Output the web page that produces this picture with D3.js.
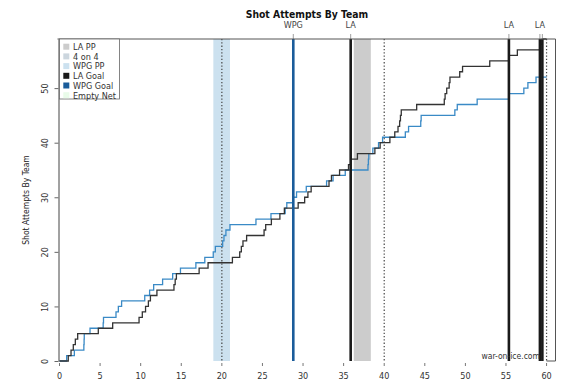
<!DOCTYPE html>
<html>
<head>
<meta charset="utf-8">
<script src="https://cdn.jsdelivr.net/npm/d3@7"></script>
<style>
  body { margin: 0; background: #fff; }
  text { font-family: "DejaVu Sans Condensed", "DejaVu Sans", sans-serif; }
</style>
</head>
<body>
<div id="chart-area"></div>
<script>
// time (minutes) of each shot attempt, cumulative count = index + 1
const laShots = [1.08, 1.42, 1.7, 1.95, 2.24, 4.78, 6.55, 9.8, 10.2, 10.6, 10.95, 11.2, 12.0,
  14.1, 14.25, 14.4, 17.2, 18.3, 21.3, 22.2, 22.4, 22.6, 23.05, 25.2, 25.4, 26.1, 27.15, 27.7,
  29.4, 30.2, 30.6, 31.0, 33.2, 33.5, 34.5, 35.6, 35.87, 36.7, 38.85, 39.5, 40.7, 41.3, 41.7,
  41.9, 42.0, 42.1, 44.0, 47.4, 47.5, 47.7, 48.0, 48.1, 49.3, 49.65, 53.0, 55.36, 56.4, 59.18, 59.48];
const wpgShots = [0.88, 1.83, 3.0, 3.03, 3.05, 3.76, 5.38, 5.42, 6.96, 7.25, 7.65, 10.5, 11.1,
  11.6, 12.7, 13.94, 14.9, 16.8, 17.9, 18.94, 19.2, 20.1, 20.26, 20.5, 21.0, 24.2, 26.05, 27.8,
  28.0, 28.8, 29.2, 30.4, 32.9, 33.7, 35.2, 38.0, 38.05, 38.1, 38.6, 39.3, 39.8, 42.6, 43.0,
  44.5, 44.55, 48.7, 49.0, 51.45, 55.36, 57.2, 57.7, 58.7];

const laGoals = [35.87, 55.36, 59.18, 59.48];
const wpgGoals = [28.8];
const laPP = [[36.25, 38.35]];
const wpgPP = [[18.95, 21.0]];
const periodEnds = [20, 40, 60];

const xTicks = [0, 5, 10, 15, 20, 25, 30, 35, 40, 45, 50, 55, 60];
const yTicks = [0, 10, 20, 30, 40, 50];
const legendLabels = ['LA PP', '4 on 4', 'WPG PP', 'LA Goal', 'WPG Goal', 'Empty Net'];

const colors = {
  laPP: '#cccccc', fourOnFour: '#ccd6de', wpgPP: '#cce1ef',
  laGoal: '#1a1a1a', wpgGoal: '#1a5c9a', empty: '#e9fbe9',
  laLine: '#333333', wpgLine: '#3a8ac6'
};

const width = 568, height = 389;
const plot = { left: 59.5, right: 555.5, top: 39, bottom: 361 };

let svg = d3.select('#chart-area').append('svg')
  .attr('width', width)
  .attr('height', height);

let x = d3.scaleLinear().domain([0, 61.1]).range([plot.left, plot.right]);
let y = d3.scaleLinear().domain([0, 59]).range([plot.bottom, plot.top]);

// penalty bands
const bands = [].concat(
  wpgPP.map((d) => ({ s: d[0], e: d[1], c: colors.wpgPP })),
  laPP.map((d) => ({ s: d[0], e: d[1], c: colors.laPP }))
);
svg.selectAll('rect.band').data(bands).enter().append('rect')
  .attr('class', 'band')
  .attr('x', (d) => x(d.s))
  .attr('width', (d) => x(d.e) - x(d.s))
  .attr('y', plot.top)
  .attr('height', plot.bottom - plot.top)
  .attr('fill', (d) => d.c);

// period ends
svg.selectAll('line.period').data(periodEnds).enter().append('line')
  .attr('class', 'period')
  .attr('x1', (d) => x(d)).attr('x2', (d) => x(d))
  .attr('y1', plot.top).attr('y2', plot.bottom)
  .attr('stroke', '#444').attr('stroke-width', 1.2)
  .attr('stroke-dasharray', '1.3,2');

// step lines
function steps(times) {
  let pts = [[0, 0]];
  times.forEach((t, i) => { pts.push([t, i + 1]); });
  pts.push([60, times.length]);
  return pts;
}
let line = d3.line()
  .x((d) => x(d[0]))
  .y((d) => y(d[1]))
  .curve(d3.curveStepAfter);

svg.append('path').datum(steps(wpgShots))
  .attr('d', line).attr('fill', 'none')
  .attr('stroke', colors.wpgLine).attr('stroke-width', 1.3);
svg.append('path').datum(steps(laShots))
  .attr('d', line).attr('fill', 'none')
  .attr('stroke', colors.laLine).attr('stroke-width', 1.3);

// goals
const goals = [].concat(
  wpgGoals.map((t) => ({ t: t, team: 'WPG', c: colors.wpgGoal })),
  laGoals.map((t) => ({ t: t, team: 'LA', c: colors.laGoal }))
).sort((a, b) => a.t - b.t);

svg.selectAll('line.goal').data(goals).enter().append('line')
  .attr('class', 'goal')
  .attr('x1', (d) => x(d.t)).attr('x2', (d) => x(d.t))
  .attr('y1', plot.top).attr('y2', plot.bottom)
  .attr('stroke', (d) => d.c).attr('stroke-width', 2.6);

// top goal axis
svg.selectAll('line.gtick').data(goals).enter().append('line')
  .attr('x1', (d) => x(d.t)).attr('x2', (d) => x(d.t))
  .attr('y1', plot.top - 5).attr('y2', plot.top)
  .attr('stroke', '#888').attr('stroke-width', 0.8);
let lastLabel = -100;
goals.forEach((d) => {
  if (x(d.t) - lastLabel < 14) return;
  lastLabel = x(d.t);
  svg.append('text')
    .attr('x', x(d.t)).attr('y', 28)
    .attr('text-anchor', 'middle')
    .attr('font-size', '9px').attr('fill', '#444')
    .text(d.team);
});

// frame
svg.append('line')
  .attr('x1', plot.left - 2).attr('x2', plot.right)
  .attr('y1', plot.top).attr('y2', plot.top)
  .attr('stroke', '#555').attr('stroke-width', 1);
svg.append('line')
  .attr('x1', plot.right).attr('x2', plot.right)
  .attr('y1', plot.top).attr('y2', plot.bottom)
  .attr('stroke', '#555').attr('stroke-width', 1);
svg.append('line')
  .attr('x1', x(60)).attr('x2', plot.right)
  .attr('y1', plot.bottom).attr('y2', plot.bottom)
  .attr('stroke', '#555').attr('stroke-width', 1);

// bottom axis: ticks and labels only
let bottom = svg.append('g');
bottom.selectAll('line').data(xTicks).enter().append('line')
  .attr('x1', (d) => x(d)).attr('x2', (d) => x(d))
  .attr('y1', 363).attr('y2', 366)
  .attr('stroke', '#777');
bottom.selectAll('text').data(xTicks).enter().append('text')
  .attr('x', (d) => x(d)).attr('y', 379)
  .attr('text-anchor', 'middle')
  .attr('font-size', '9px').attr('fill', '#333')
  .text((d) => d);

// left axis
let leftAxis = d3.axisLeft(y).tickValues(yTicks).tickSize(4).tickSizeOuter(0);
let left = svg.append('g')
  .attr('transform', `translate(${plot.left - 1}, 0)`)
  .call(leftAxis);
left.select('.domain').attr('stroke', '#444');
left.selectAll('.tick line').attr('stroke', '#666');
left.selectAll('.tick text')
  .attr('font-size', '9px').attr('fill', '#333')
  .attr('x', 0).attr('dy', 0)
  .attr('text-anchor', 'middle')
  .attr('transform', 'translate(-11, 0) rotate(-90)');

svg.append('text')
  .attr('transform', `translate(29, ${(plot.top + plot.bottom) / 2}) rotate(-90)`)
  .attr('text-anchor', 'middle')
  .attr('font-size', '8.5px').attr('fill', '#222')
  .text('Shot Attempts By Team');

// title
svg.append('text')
  .attr('x', 307).attr('y', 18)
  .attr('text-anchor', 'middle')
  .attr('font-family', 'DejaVu Sans')
  .attr('font-weight', 'bold')
  .attr('font-size', '10.3px').attr('fill', '#111')
  .text('Shot Attempts By Team');

// credit
svg.append('text')
  .attr('x', 540).attr('y', 359)
  .attr('text-anchor', 'end')
  .attr('font-size', '8.5px').attr('fill', '#333')
  .text('war-on-ice.com');

// legend
const legendColors = [colors.laPP, colors.fourOnFour, colors.wpgPP, colors.laGoal, colors.wpgGoal, colors.empty];
let legend = svg.append('g');
legend.append('rect')
  .attr('x', 59.5).attr('y', 39).attr('width', 60).attr('height', 60)
  .attr('fill', '#fff').attr('stroke', '#666').attr('stroke-width', 0.8);
let items = legend.selectAll('g.item').data(legendLabels).enter().append('g')
  .attr('transform', (d, i) => `translate(0, ${46.7 + i * 9.7})`);
items.append('rect')
  .attr('x', 63.3).attr('y', -3).attr('width', 6).attr('height', 6)
  .attr('fill', (d, i) => legendColors[i]);
items.append('text')
  .attr('x', 73).attr('y', 3.3)
  .attr('font-size', '9px').attr('fill', '#333')
  .text((d) => d);
</script>
</body>
</html>
